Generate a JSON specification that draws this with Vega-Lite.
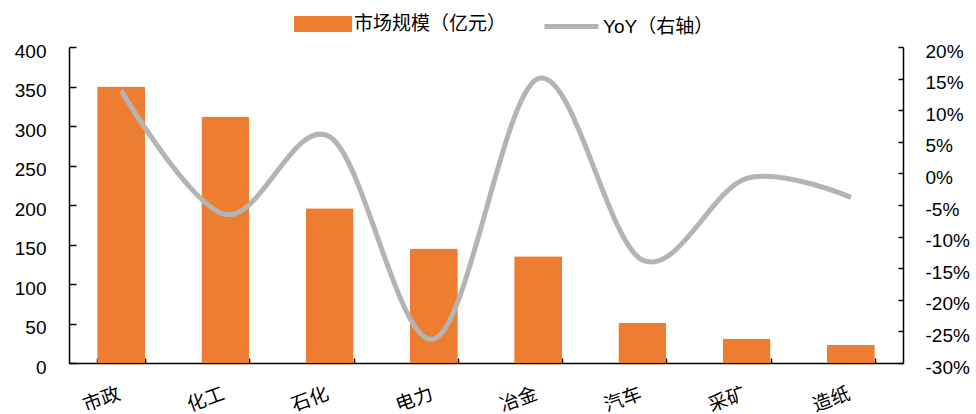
{
  "$schema": "https://vega.github.io/schema/vega-lite/v6.json",
  "width": 834,
  "height": 316,
  "autosize": "none",
  "padding": {"left": 69, "top": 47, "right": 73, "bottom": 51},
  "background": "white",
  "config": {
    "view": {"stroke": null},
    "font": "Liberation Sans, Noto Sans CJK SC",
    "axis": {"labelFont": "Liberation Sans, Noto Sans CJK SC", "labelFontSize": 19, "labelColor": "#000", "domainColor": "#000", "tickColor": "#000", "domainWidth": 1.5, "tickWidth": 1.5, "grid": false, "title": null},
    "legend": {"labelFont": "Liberation Sans, Noto Sans CJK SC", "labelFontSize": 19, "labelColor": "#000", "padding": 0, "titlePadding": 0}
  },
  "data": {
    "values": [
      {"sector": "市政", "size": 350, "yoy": 0.131},
      {"sector": "化工", "size": 312, "yoy": -0.065},
      {"sector": "石化", "size": 196, "yoy": 0.058},
      {"sector": "电力", "size": 145, "yoy": -0.262},
      {"sector": "冶金", "size": 135, "yoy": 0.15},
      {"sector": "汽车", "size": 51, "yoy": -0.137},
      {"sector": "采矿", "size": 31, "yoy": -0.008},
      {"sector": "造纸", "size": 23, "yoy": -0.038}
    ]
  },
  "encoding": {
    "x": {
      "field": "sector",
      "type": "nominal",
      "sort": null,
      "scale": {"paddingInner": 0.54, "paddingOuter": 0.27},
      "axis": {"tickBand": "extent", "tickSize": -5, "labelAngle": 340, "labelAlign": "center", "labelBaseline": "middle", "labelOffset": -20, "labelPadding": 41}
    }
  },
  "layer": [
    {
      "mark": {"type": "bar", "color": "#ED7D31", "cornerRadiusEnd": 1.5},
      "encoding": {
        "y": {"field": "size", "type": "quantitative", "scale": {"domain": [0, 400], "nice": false},
          "axis": {"values": [0, 50, 100, 150, 200, 250, 300, 350, 400], "tickSize": -7, "labelPadding": 30, "labelOffset": 4}},
        "fill": {"datum": "市场规模（亿元）", "type": "nominal", "scale": {"range": ["#ED7D31"]},
          "legend": {"title": null, "orient": "none", "legendX": 225, "legendY": -52, "symbolType": "M-1,-0.276H1V0.276H-1Z", "symbolSize": 3364, "symbolStrokeWidth": 0, "labelOffset": 2}}
      }
    },
    {
      "mark": {"type": "line", "color": "#B4B4B4", "strokeWidth": 5, "interpolate": "cardinal", "tension": 0},
      "encoding": {
        "y": {"field": "yoy", "type": "quantitative", "scale": {"domain": [-0.3, 0.2], "nice": false},
          "axis": {"orient": "right", "values": [-0.3, -0.25, -0.2, -0.15, -0.1, -0.05, 0, 0.05, 0.1, 0.15, 0.2], "format": ".0%", "labelExpr": "replace(datum.label, '−', '-')", "tickSize": -5, "labelPadding": 27, "labelOffset": 4}},
        "stroke": {"datum": "YoY（右轴）", "type": "nominal", "scale": {"range": ["#B4B4B4"]},
          "legend": {"title": null, "orient": "none", "legendX": 473, "legendY": -50, "symbolType": "stroke", "symbolSize": 2916, "symbolStrokeWidth": 5, "labelOffset": 2}}
      }
    }
  ],
  "resolve": {"scale": {"y": "independent", "fill": "independent", "stroke": "independent"}}
}
